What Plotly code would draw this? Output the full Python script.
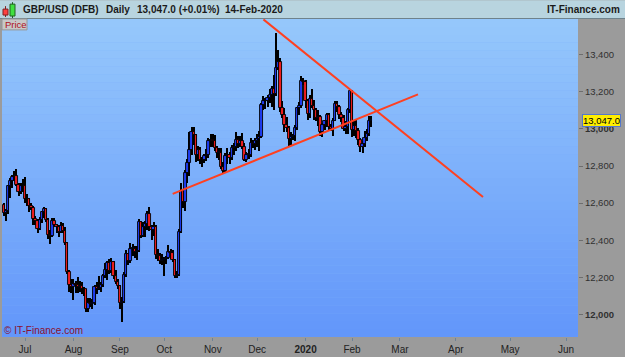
import pandas as pd
import plotly.graph_objects as go

# ---------------- data ----------------
dates = pd.bdate_range("2019-06-17", "2020-02-14")

opens = [12590, 12545, 12560, 12690, 12720, 12740, 12745, 12700, 12660, 12695,
         12690, 12620, 12625, 12585, 12575, 12515, 12505, 12460, 12510, 12550,
         12570, 12510, 12430, 12425, 12505, 12480, 12470, 12445, 12475, 12450,
         12385, 12230, 12160, 12150, 12165, 12160, 12150, 12155, 12140, 12135,
         12030, 12060, 12055, 12060, 12150, 12140, 12145, 12160, 12205, 12240,
         12280, 12235, 12285, 12210, 12175, 12155, 12060, 12065, 12215, 12325,
         12290, 12355, 12355, 12335, 12340, 12500, 12425, 12470, 12490, 12540,
         12470, 12455, 12470, 12320, 12315, 12290, 12295, 12300, 12305, 12335,
         12330, 12295, 12210, 12215, 12445, 12665, 12605, 12765, 12815, 12885,
         12985, 12965, 12860, 12885, 12830, 12835, 12855, 12860, 12935, 12940,
         12935, 12895, 12870, 12870, 12795, 12775, 12855, 12860, 12845, 12895,
         12900, 12940, 12920, 12935, 12905, 12830, 12860, 12860, 12925, 12920,
         12935, 12945, 12955, 13130, 13150, 13150, 13165, 13185, 13215, 13190,
         13330, 13360, 13110, 13075, 13020, 13005, 12945, 12955, 12960, 13005,
         13110, 13125, 13260, 13250, 13150, 13080, 13160, 13125, 13100, 13060,
         13065, 12985, 13020, 13040, 13075, 13010, 13000, 13045, 13135, 13120,
         13075, 13060, 13000, 13010, 13100, 13205, 12995, 13015, 12990, 12940,
         12900, 12920, 12950, 12975, 13045]
highs = [12600, 12570, 12700, 12735, 12750, 12775, 12783, 12710, 12710, 12730,
         12740, 12650, 12630, 12600, 12585, 12530, 12515, 12525, 12560, 12580,
         12575, 12520, 12455, 12520, 12520, 12490, 12480, 12500, 12495, 12470,
         12390, 12240, 12190, 12190, 12180, 12200, 12180, 12175, 12150, 12140,
         12090, 12090, 12085, 12160, 12175, 12210, 12175, 12220, 12280, 12290,
         12300, 12305, 12290, 12240, 12190, 12160, 12095, 12230, 12350, 12330,
         12385, 12380, 12370, 12370, 12515, 12505, 12500, 12505, 12560, 12580,
         12485, 12500, 12480, 12355, 12330, 12325, 12310, 12315, 12375, 12355,
         12345, 12300, 12235, 12460, 12710, 12670, 12780, 12840, 12985, 13010,
         13012, 12970, 12910, 12905, 12850, 12865, 12890, 12950, 12975, 12975,
         12965, 12910, 12895, 12895, 12820, 12870, 12895, 12875, 12915, 12925,
         12985, 12960, 12960, 12980, 12925, 12875, 12890, 12950, 12940, 12950,
         12975, 12990, 13140, 13175, 13165, 13180, 13215, 13230, 13290, 13515,
         13425, 13380, 13150, 13110, 13065, 13015, 12985, 12970, 13020, 13120,
         13145, 13285, 13275, 13265, 13160, 13185, 13215, 13155, 13115, 13100,
         13075, 13030, 13050, 13085, 13085, 13025, 13060, 13150, 13150, 13130,
         13090, 13075, 13040, 13110, 13210, 13210, 13045, 13050, 13005, 12950,
         12935, 12990, 13000, 13070, 13070]
lows = [12530, 12505, 12540, 12630, 12680, 12720, 12690, 12640, 12650, 12660,
        12600, 12585, 12550, 12565, 12480, 12480, 12440, 12455, 12495, 12520,
        12500, 12405, 12380, 12420, 12470, 12440, 12420, 12440, 12440, 12375,
        12220, 12120, 12115, 12080, 12115, 12115, 12120, 12110, 12100, 12015,
        12015, 12040, 12030, 12050, 12110, 12130, 12120, 12150, 12195, 12185,
        12220, 12225, 12190, 12165, 12140, 12030, 11958, 12060, 12200, 12265,
        12280, 12315, 12305, 12295, 12335, 12410, 12420, 12420, 12455, 12450,
        12400, 12425, 12300, 12290, 12270, 12265, 12205, 12270, 12300, 12300,
        12285, 12195, 12195, 12205, 12440, 12575, 12560, 12710, 12745, 12860,
        12915, 12820, 12825, 12810, 12795, 12815, 12825, 12845, 12905, 12900,
        12880, 12845, 12835, 12785, 12765, 12770, 12810, 12810, 12830, 12860,
        12880, 12895, 12905, 12890, 12825, 12820, 12840, 12850, 12895, 12885,
        12900, 12880, 12950, 13100, 13105, 13120, 13140, 13120, 13100, 13175,
        13315, 13090, 13060, 12985, 12985, 12905, 12915, 12940, 12935, 12995,
        13075, 13115, 13235, 13115, 13050, 13060, 13110, 13050, 13040, 13015,
        12960, 12955, 12995, 13010, 12995, 12990, 12960, 13040, 13090, 13055,
        13035, 12990, 12975, 12975, 13085, 12955, 12960, 12950, 12915, 12875,
        12870, 12900, 12935, 12960, 13010]
closes = [12545, 12560, 12690, 12720, 12740, 12745, 12700, 12660, 12695, 12690,
          12620, 12625, 12585, 12575, 12515, 12505, 12460, 12510, 12550, 12570,
          12510, 12430, 12425, 12505, 12480, 12470, 12445, 12475, 12450, 12385,
          12230, 12160, 12150, 12165, 12160, 12150, 12155, 12140, 12135, 12030,
          12060, 12055, 12060, 12150, 12140, 12145, 12160, 12205, 12240, 12280,
          12235, 12285, 12210, 12175, 12155, 12060, 12065, 12215, 12325, 12290,
          12355, 12355, 12335, 12340, 12500, 12425, 12470, 12490, 12540, 12470,
          12455, 12470, 12320, 12315, 12290, 12295, 12300, 12305, 12335, 12330,
          12295, 12210, 12215, 12445, 12665, 12605, 12765, 12815, 12885, 12985,
          12965, 12860, 12885, 12830, 12835, 12855, 12860, 12935, 12940, 12935,
          12895, 12870, 12870, 12795, 12775, 12855, 12860, 12845, 12895, 12900,
          12940, 12920, 12935, 12905, 12830, 12860, 12860, 12925, 12920, 12935,
          12945, 12955, 13130, 13150, 13150, 13165, 13185, 13215, 13190, 13330,
          13360, 13110, 13075, 13020, 13005, 12945, 12955, 12960, 13005, 13110,
          13125, 13260, 13250, 13150, 13080, 13160, 13125, 13100, 13060, 13065,
          12985, 13020, 13040, 13075, 13010, 13000, 13045, 13135, 13120, 13075,
          13060, 13000, 13010, 13100, 13205, 12995, 13015, 12990, 12940, 12900,
          12920, 12950, 12975, 13045, 13047]

month_ticks = ["2019-07-01", "2019-08-01", "2019-09-02", "2019-10-01", "2019-11-01",
               "2019-12-02", "2020-01-02", "2020-02-03", "2020-03-01", "2020-04-01",
               "2020-05-01", "2020-06-01"]
month_labels = ["Jul", "Aug", "Sep", "Oct", "Nov", "Dec", "<b>2020</b>", "Feb",
                "Mar", "Apr", "May", "Jun"]
price_ticks = [12000, 12200, 12400, 12600, 12800, 13000, 13200, 13400]
price_labels = ["<b>12,000</b>", "12,200", "12,400", "12,600", "12,800",
                "<b>13,000</b>", "13,200", "13,400"]
last_price = 13047.0

support_dates = ["2019-10-07", "2020-03-11"]
support_prices = [12650, 13186]
resist_dates = ["2019-12-05", "2020-04-16"]
resist_prices = [13590, 12633]

# ---------------- axis mapping (trading days, then calendar days in future) ----------------
FUTURE_SCALE = 0.856
last_date = dates[-1]


def xpos(d):
    d = pd.Timestamp(d)
    if d <= last_date:
        return int(dates.searchsorted(d))
    return len(dates) - 1 + (d - last_date).days * FUTURE_SCALE


xs = [xpos(d) for d in dates]

FONT = "Liberation Sans, Arial, sans-serif"
W, H = 625, 357
ML, MR, MT, MB = 2, 47, 19, 17
PW, PH = W - ML - MR, H - MT - MB


def px(x):
    return (x - ML) / PW


def py(y):
    return (H - MB - y) / PH


UP_COL = "#1e3cf0"
DN_COL = "#f01e1e"

fig = go.Figure()

# wicks (drawn as thin bars so bodies overlay them)
fig.add_trace(go.Bar(
    x=xs, y=[h - l for h, l in zip(highs, lows)], base=lows,
    width=0.55, marker=dict(color="#000000", line=dict(width=0)),
    showlegend=False, hoverinfo="skip"))
# bodies
body_base = [min(o, c) for o, c in zip(opens, closes)]
body_len = [max(abs(c - o), 3) for o, c in zip(opens, closes)]
body_col = [UP_COL if c >= o else DN_COL for o, c in zip(opens, closes)]
fig.add_trace(go.Bar(
    x=xs, y=body_len, base=body_base, width=1.15,
    marker=dict(color=body_col, line=dict(color="#000000", width=0.9)),
    showlegend=False, hoverinfo="skip"))

fig.add_trace(go.Scatter(
    x=[xpos(d) for d in support_dates], y=support_prices, mode="lines",
    line=dict(color="#ff4020", width=2), showlegend=False, hoverinfo="skip"))
fig.add_trace(go.Scatter(
    x=[xpos(d) for d in resist_dates], y=resist_prices, mode="lines",
    line=dict(color="#ff4020", width=2), showlegend=False, hoverinfo="skip"))

shapes = []
# gradient plot background
top = (150, 200, 251)
bot = (98, 150, 250)
N = 40
for k in range(N):
    t = (k + 0.5) / N
    c = tuple(int(round(top[j] + (bot[j] - top[j]) * t)) for j in range(3))
    shapes.append(dict(type="rect", xref="paper", yref="paper",
                       x0=0, x1=1, y0=1 - (k + 1) / N, y1=1 - k / N,
                       fillcolor="rgb(%d,%d,%d)" % c, line=dict(width=0),
                       layer="below"))
# title bar
shapes.append(dict(type="rect", xref="paper", yref="paper",
                   x0=px(0), x1=px(W), y0=py(0), y1=py(19),
                   fillcolor="rgb(184,212,223)", line=dict(width=0), layer="above"))
shapes.append(dict(type="line", xref="paper", yref="paper",
                   x0=px(0), x1=px(W), y0=py(18.5), y1=py(18.5),
                   line=dict(color="rgb(110,130,140)", width=1)))
# small candle icon
shapes.append(dict(type="line", xref="paper", yref="paper", x0=px(5.5), x1=px(5.5),
                   y0=py(6), y1=py(17), line=dict(color="#802020", width=1)))
shapes.append(dict(type="rect", xref="paper", yref="paper", x0=px(3), x1=px(8),
                   y0=py(9), y1=py(15), fillcolor="#ff4040",
                   line=dict(color="#802020", width=1)))
shapes.append(dict(type="line", xref="paper", yref="paper", x0=px(12.5), x1=px(12.5),
                   y0=py(2), y1=py(18), line=dict(color="#206020", width=1)))
shapes.append(dict(type="rect", xref="paper", yref="paper", x0=px(10), x1=px(15),
                   y0=py(4), y1=py(16), fillcolor="#40e040",
                   line=dict(color="#206020", width=1)))
# "Price" box
shapes.append(dict(type="rect", xref="paper", yref="paper", x0=px(2), x1=px(27),
                   y0=py(19), y1=py(30), fillcolor="rgb(200,200,200)",
                   line=dict(color="rgb(150,150,150)", width=1)))

TF = dict(family=FONT, size=10, color="#1a1a1a")
annotations = [
    dict(xref="paper", yref="paper", x=px(21), y=py(9.5), xanchor="left", yanchor="middle",
         text="<b>GBP/USD (DFB)</b>", showarrow=False, font=TF),
    dict(xref="paper", yref="paper", x=px(104), y=py(9.5), xanchor="left", yanchor="middle",
         text="<b>Daily</b>", showarrow=False, font=TF),
    dict(xref="paper", yref="paper", x=px(135), y=py(9.5), xanchor="left", yanchor="middle",
         text="<b>13,047.0 (+0.01%)</b>", showarrow=False, font=TF),
    dict(xref="paper", yref="paper", x=px(223), y=py(9.5), xanchor="left", yanchor="middle",
         text="<b>14-Feb-2020</b>", showarrow=False, font=TF),
    dict(xref="paper", yref="paper", x=px(622), y=py(9.5), xanchor="right", yanchor="middle",
         text="<b>IT-Finance.com</b>", showarrow=False, font=TF),
    dict(xref="paper", yref="paper", x=px(3), y=py(24.5), xanchor="left", yanchor="middle",
         text="Price", showarrow=False,
         font=dict(family=FONT, size=9.5, color="#b01020")),
    dict(xref="paper", yref="paper", x=px(2), y=py(333), xanchor="left", yanchor="middle",
         text="© IT-Finance.com", showarrow=False,
         font=dict(family=FONT, size=10, color="#8a1030")),
    dict(xref="paper", yref="y", x=1, y=last_price, xanchor="left", yanchor="middle",
         xshift=4, text=f"{last_price:,.1f}", showarrow=False,
         bgcolor="#ffee00", bordercolor="#5577cc", borderwidth=1, borderpad=0,
         font=dict(family=FONT, size=9.5, color="#000000")),
]

fig.update_layout(
    width=W, height=H,
    margin=dict(l=ML, r=MR, t=MT, b=MB, pad=0),
    paper_bgcolor="rgb(155,155,155)",
    plot_bgcolor="rgb(125,175,250)",
    shapes=shapes, annotations=annotations,
    showlegend=False, barmode="overlay", bargap=0,
    xaxis=dict(
        range=[xpos(dates[0]) - 0.9, 272.1],
        tickmode="array", tickvals=[xpos(d) for d in month_ticks], ticktext=month_labels,
        ticks="outside", ticklen=3, tickcolor="rgb(110,130,150)",
        showgrid=False, zeroline=False, showline=False,
        tickfont=dict(family=FONT, size=10, color="#222222"),
        fixedrange=True,
    ),
    yaxis=dict(
        range=[11879, 13592], side="right",
        tickmode="array", tickvals=price_ticks, ticktext=price_labels,
        ticks="outside", ticklen=4, tickcolor="rgb(110,110,110)",
        showgrid=False, zeroline=False, showline=False,
        tickfont=dict(family=FONT, size=9.5, color="#303030"),
        fixedrange=True,
    ),
)

fig.write_html("out.html")
